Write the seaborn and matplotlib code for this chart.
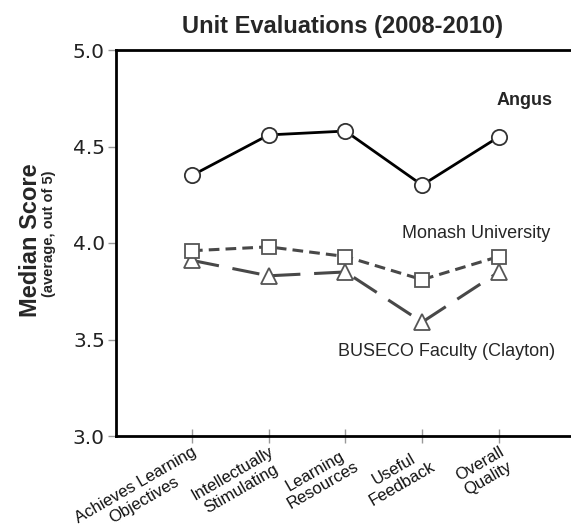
import matplotlib
matplotlib.use("Agg")
import matplotlib.pyplot as plt
import seaborn as sns
import pandas as pd

categories = ["Achieves Learning\nObjectives", "Intellectually\nStimulating",
              "Learning\nResources", "Useful\nFeedback", "Overall\nQuality"]
angus = [4.35, 4.56, 4.58, 4.30, 4.55]
monash = [3.96, 3.98, 3.93, 3.81, 3.93]
buseco = [3.91, 3.83, 3.85, 3.59, 3.85]
yticks = [3.0, 3.5, 4.0, 4.5, 5.0]

sns.set_style("white")
plt.rcParams['font.family'] = ['DejaVu Sans']

fig = plt.figure(figsize=(5.71, 5.31), dpi=100)
ax = fig.add_axes([116/571, 95/531, 1 - 116/571, (436-50)/531])

x = list(range(len(categories)))
df = pd.DataFrame({"x": x, "Angus": angus, "Monash": monash, "BUSECO": buseco})

gray = "#484848"
sns.lineplot(data=df, x="x", y="BUSECO", ax=ax, color=gray, lw=2.2,
             linestyle=(0, (9, 4.5)), marker="^", markersize=11,
             markerfacecolor="white", markeredgecolor="#555555", markeredgewidth=1.3)
sns.lineplot(data=df, x="x", y="Monash", ax=ax, color=gray, lw=2.2,
             linestyle=(0, (3.5, 2)), marker="s", markersize=10,
             markerfacecolor="white", markeredgecolor="#555555", markeredgewidth=1.3)
sns.lineplot(data=df, x="x", y="Angus", ax=ax, color="black", lw=2.0,
             marker="o", markersize=11, markerfacecolor="white",
             markeredgecolor="#333333", markeredgewidth=1.3)

ax.set_xlim(-0.99, 4.94)
ax.set_ylim(3.0, 5.0)
ax.set_yticks(yticks)
ax.set_yticklabels([f"{v:.1f}" for v in yticks], fontsize=14.5, color="#222222")
ax.set_xticks(x)
ax.set_xticklabels(categories, rotation=30, ha="right", va="top",
                   rotation_mode="anchor", fontsize=12, color="#111111",
                   family="Liberation Sans", multialignment="center",
                   linespacing=1.15)
ax.tick_params(axis="y", direction="out", length=6, width=1, color="#999999",
               left=True, pad=2)
ax.tick_params(axis="x", direction="inout", length=10, width=1, color="#999999",
               bottom=True, pad=1)

for s in ["left", "bottom", "top"]:
    ax.spines[s].set_color("black")
    ax.spines[s].set_linewidth(2)
ax.spines["right"].set_visible(False)

ax.set_xlabel("")
ax.set_ylabel("")

fig.text(31/571, 1 - 240/531, "Median Score", rotation=90, ha="center", va="center",
         fontsize=17, fontweight="bold", family="Liberation Sans")
fig.text(49/571, 1 - 234/531, "(average, out of 5)", rotation=90, ha="center", va="center",
         fontsize=10.5, fontweight="bold", family="Liberation Sans")

fig.text(343/571, 1 - 26/531, "Unit Evaluations (2008-2010)", ha="center", va="center",
         fontsize=17, fontweight="bold", family="Liberation Sans")

ax.text(4.34, 4.74, "Angus", ha="center", va="center", fontsize=13,
        fontweight="bold", family="Liberation Sans")
ax.text(3.71, 4.05, "Monash University", ha="center", va="center", fontsize=13,
        family="Liberation Sans")
ax.text(3.32, 3.44, "BUSECO Faculty (Clayton)", ha="center", va="center", fontsize=13,
        family="Liberation Sans")

fig.savefig("out.png", dpi=100)
